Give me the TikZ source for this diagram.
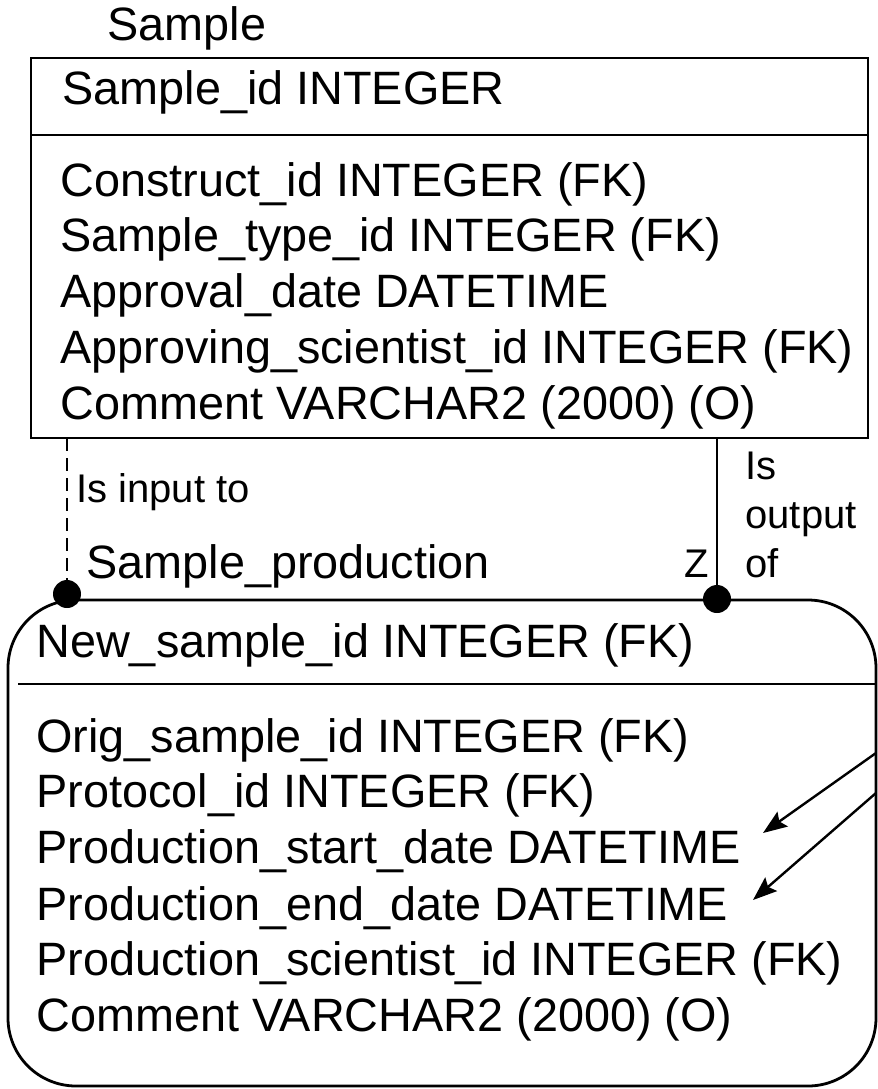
\documentclass[tikz,border=0pt]{standalone}
\usepackage{fontspec}
\setmainfont{Liberation Sans}
\usetikzlibrary{arrows.meta}

\begin{document}
\begin{tikzpicture}[x=0.5pt,y=-0.5pt,
	entity/.style={line width=1.4pt},
	link/.style={line width=1.2pt},
	joint/.style={circle,fill=black,inner sep=0pt,minimum size=14pt}]
	\useasboundingbox (0,0) rectangle (878,1089);

	\begin{scope}[every node/.style={anchor=base west,inner sep=0pt,font=\fontsize{23.4}{28}\selectfont}]
		\node (sample) at (107,40) {Sample};
		\node (sampleid) at (62,104) {Sample\_id INTEGER};
		\node (constructid) at (60,196) {Construct\_id INTEGER (FK)};
		\node (sampletypeid) at (60,251) {Sample\_type\_id INTEGER (FK)};
		\node (approvaldate) at (60,307) {Approval\_date DATETIME};
		\node (approvingid) at (60,363) {Approving\_scientist\_id INTEGER (FK)};
		\node (samplecomment) at (60,419) {Comment VARCHAR2 (2000) (O)};

		\node (production) at (86,578) {Sample\_production};
		\node (newsampleid) at (36,657) {New\_sample\_id INTEGER (FK)};
		\node (origsampleid) at (36,752) {Orig\_sample\_id INTEGER (FK)};
		\node (protocolid) at (36,807) {Protocol\_id INTEGER (FK)};
		\node (startdate) at (36,863) {Production\_start\_date DATETIME};
		\node (enddate) at (36,920) {Production\_end\_date DATETIME};
		\node (scientistid) at (36,975) {Production\_scientist\_id INTEGER (FK)};
		\node (prodcomment) at (36,1031) {Comment VARCHAR2 (2000) (O)};
	\end{scope}

	\begin{scope}[every node/.style={anchor=base west,inner sep=0pt,font=\fontsize{20}{24.3}\selectfont}]
		\node (inputrole) at (76,502) {Is input to};
		\node[align=left] (outputrole) at (745,577) {Is\\output\\of};
		\node (z) at (684,577) {Z};
	\end{scope}

	% Sample
	\draw[entity] (31,58) rectangle (868,438);
	\draw[entity] (31,135) -- (868,135);
	\coordinate (samplebottom) at (0,438);

	% Sample_production
	\draw[entity,rounded corners=34pt] (8,600) rectangle (876,1086);
	\draw[entity] (18,684) -- (876,684);

	\node[joint] (input) at (67,594) {};
	\node[joint] (output) at (717,599) {};
	\draw[link,dash pattern=on 6.5pt off 3.5pt] (input |- samplebottom) -- (input);
	\draw[link] (output |- samplebottom) -- (output);

	\coordinate (startfrom) at (876,753);
	\coordinate (endfrom) at (876,793);
	\coordinate (starttip) at (763,833);
	\coordinate (endtip) at (753,900);
	\draw[link,-{Stealth[length=12pt,width=9pt,inset=2pt]}] (startfrom) -- (starttip);
	\draw[link,-{Stealth[length=12pt,width=9pt,inset=2pt]}] (endfrom) -- (endtip);
\end{tikzpicture}
\end{document}
